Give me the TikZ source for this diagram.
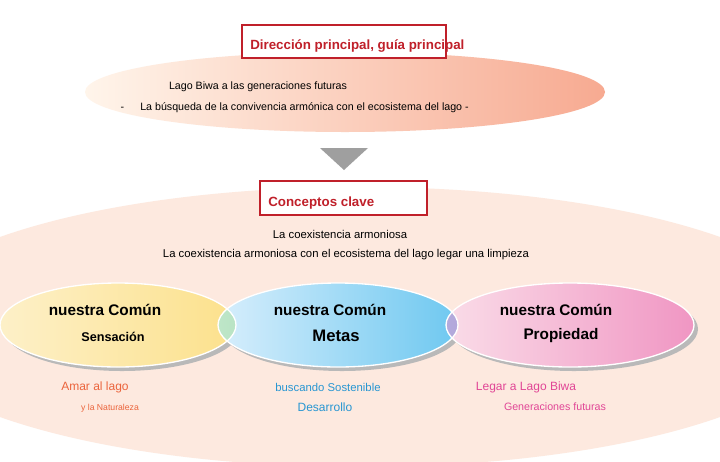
\documentclass[tikz,border=0pt]{standalone}
\usepackage{fontspec}
\setmainfont{Liberation Sans}
\usetikzlibrary{shapes.geometric,shadows}
\definecolor{tred}{HTML}{C0202A}
\definecolor{bgpeach}{HTML}{FDE9DF}
\tikzset{
  titlebox/.style={draw=tred,line width=1pt,fill=white},
  titletxt/.style={anchor=west,text=tred,font=\bfseries\fontsize{10}{12}\selectfont,inner sep=0pt},
  txt/.style={font=\fontsize{8}{10}\selectfont},
  head/.style={font=\bfseries\fontsize{11.5}{13}\selectfont},
  lab/.style={font=\fontsize{9}{11}\selectfont}
}
\begin{document}
\begin{tikzpicture}[x=0.75pt,y=-0.75pt]
\useasboundingbox (0,0) rectangle (720,461);
\fill[white] (0,0) rectangle (720,461);
\begin{scope}
\clip (0,0) rectangle (720,461);
\fill[bgpeach] (360,327) ellipse [x radius=470, y radius=140];
\end{scope}
\shade[left color=orange!8!white, right color={rgb,255:red,247;green,170;blue,145}] (345,92) ellipse [x radius=260, y radius=40];
\draw[titlebox] (242,25) rectangle (446,58);
\node[titletxt] (t1) at (250,46) {Dirección principal, guía principal};
\node[txt] (l1) at (258,87) {Lago Biwa a las generaciones futuras};
\node[txt,anchor=west] (l2) at (116,108) {-\hspace{12pt}La búsqueda de la convivencia armónica con el ecosistema del lago -};
\fill[gray!75] (320,148) -- (368,148) -- (344,170) -- cycle;
\draw[titlebox] (260,181) rectangle (427,215);
\node[titletxt] (t2) at (268,203) {Conceptos clave};
\node[txt,font=\fontsize{8.5}{10}\selectfont] (c1) at (340,234) {La coexistencia armoniosa};
\node[txt,font=\fontsize{8.5}{10}\selectfont] (c2) at (346,255) {La coexistencia armoniosa con el ecosistema del lago legar una limpieza};
\fill[gray!55] (122,329) ellipse [x radius=118, y radius=42];
\fill[gray!55] (342,329) ellipse [x radius=120, y radius=42];
\fill[gray!55] (574,329) ellipse [x radius=124, y radius=42];
\shade[left color={rgb,255:red,253;green,240;blue,200}, right color={rgb,255:red,252;green,225;blue,140}] (118,325) ellipse [x radius=118, y radius=42];
\shade[left color={rgb,255:red,215;green,238;blue,252}, right color={rgb,255:red,110;green,200;blue,240}] (338,325) ellipse [x radius=120, y radius=42];
\shade[left color={rgb,255:red,250;green,220;blue,232}, right color={rgb,255:red,240;green,150;blue,195}] (570,325) ellipse [x radius=124, y radius=42];
\begin{scope}
\clip (118,325) ellipse [x radius=118, y radius=42];
\shade[left color={rgb,255:red,190;green,230;blue,200}, right color={rgb,255:red,120;green,195;blue,150}] (338,325) ellipse [x radius=120, y radius=42];
\end{scope}
\begin{scope}
\clip (338,325) ellipse [x radius=120, y radius=42];
\shade[left color={rgb,255:red,180;green,170;blue,220}, right color={rgb,255:red,140;green,120;blue,190}] (570,325) ellipse [x radius=124, y radius=42];
\end{scope}
\draw[white,line width=1pt] (118,325) ellipse [x radius=118, y radius=42];
\draw[white,line width=1pt] (338,325) ellipse [x radius=120, y radius=42];
\draw[white,line width=1pt] (570,325) ellipse [x radius=124, y radius=42];
\node[head] (a1) at (105,310) {nuestra Común};
\node[head,font=\bfseries\fontsize{9.5}{11}\selectfont] (a2) at (113,337) {Sensación};
\node[head] (b1) at (330,310) {nuestra Común};
\node[head,font=\bfseries\fontsize{12.5}{14}\selectfont] (b2) at (336,336) {Metas};
\node[head] (d1) at (556,310) {nuestra Común};
\node[head] (d2) at (561,336) {Propiedad};
\node[lab,text={rgb,255:red,235;green,100;blue,60}] (e1) at (95,387) {Amar al lago};
\node[txt,font=\fontsize{6.5}{8}\selectfont,text={rgb,255:red,235;green,100;blue,60}] (e2) at (110,408) {y la Naturaleza};
\node[lab,font=\fontsize{8.5}{10}\selectfont,text={rgb,255:red,40;green,150;blue,210}] (f1) at (328,387) {buscando Sostenible};
\node[lab,text={rgb,255:red,40;green,150;blue,210}] (f2) at (325,407) {Desarrollo};
\node[lab,text={rgb,255:red,225;green,70;blue,150}] (g1) at (526,387) {Legar a Lago Biwa};
\node[txt,text={rgb,255:red,225;green,70;blue,150}] (g2) at (555,407) {Generaciones futuras};
\end{tikzpicture}
\end{document}
